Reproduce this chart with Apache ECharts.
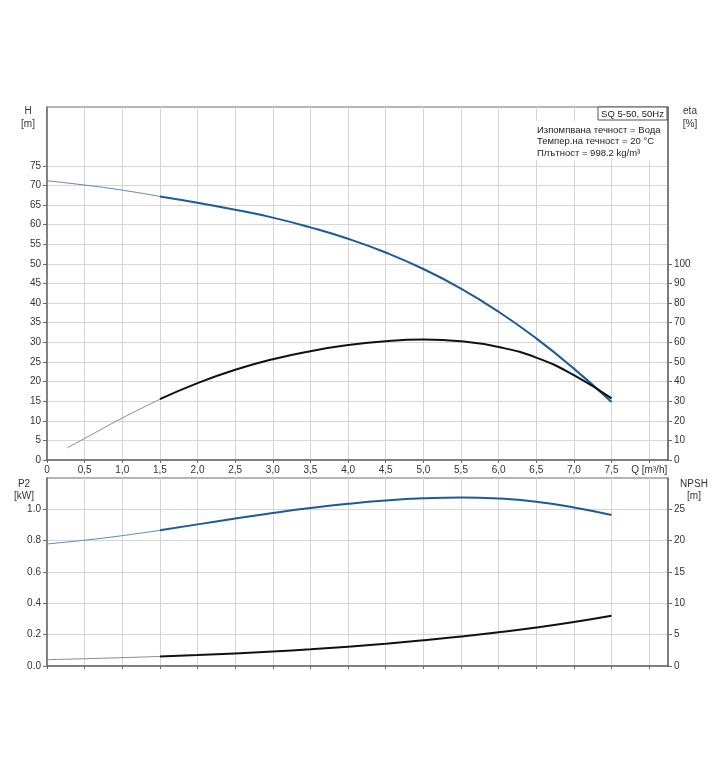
<!DOCTYPE html>
<html>
<head>
<meta charset="utf-8">
<script src="https://cdn.jsdelivr.net/npm/echarts@6/dist/echarts.min.js"></script>
<style>
html,body{margin:0;padding:0;background:#fff;}
#chart{width:720px;height:780px;}
</style>
</head>
<body>
<div id="chart"></div>
<script>
// Flow Q [m³/h]
const Q = [0, 0.5, 1.0, 1.5, 2.0, 2.5, 3.0, 3.5, 4.0, 4.5, 5.0, 5.5, 6.0, 6.5, 7.0, 7.5];
// Head H [m]
const H = [71.2, 70.1, 68.8, 67.2, 65.6, 63.8, 61.8, 59.3, 56.4, 52.9, 48.7, 43.7, 37.8, 31.0, 23.3, 14.8];
// Efficiency eta [%]
const ETA_Q = [0.27, 0.5, 1.0, 1.5, 2.0, 2.5, 3.0, 3.5, 4.0, 4.5, 5.0, 5.5, 6.0, 6.5, 7.0, 7.5];
const ETA = [6.2, 11.0, 21.4, 31.0, 39.2, 46.0, 51.4, 55.5, 58.6, 60.6, 61.4, 60.5, 57.6, 52.2, 43.3, 31.4];
// Power P2 [kW]
const P2 = [0.779, 0.803, 0.832, 0.866, 0.904, 0.941, 0.976, 1.008, 1.035, 1.056, 1.070, 1.076, 1.069, 1.048, 1.012, 0.964];
// NPSH [m]
const NPSH = [1.0, 1.16, 1.33, 1.52, 1.74, 2.0, 2.31, 2.67, 3.09, 3.56, 4.09, 4.69, 5.37, 6.14, 7.02, 8.02];
// Tick / label values
const X_TICKS = [0, 0.5, 1.0, 1.5, 2.0, 2.5, 3.0, 3.5, 4.0, 4.5, 5.0, 5.5, 6.0, 6.5, 7.0, 7.5, 8.0];
const H_TICKS = [0, 5, 10, 15, 20, 25, 30, 35, 40, 45, 50, 55, 60, 65, 70, 75];
const ETA_TICKS = [0, 10, 20, 30, 40, 50, 60, 70, 80, 90, 100];
const P2_TICKS = [0, 0.2, 0.4, 0.6, 0.8, 1.0];
const NPSH_TICKS = [0, 5, 10, 15, 20, 25];
const X_AXIS_TITLE = 'Q [m³/h]';
const INFO_TITLE = 'SQ 5-50, 50Hz';
const INFO_LINES = ['Изпомпвана течност = Вода', 'Темпер.на течност = 20 °C', 'Плътност = 998.2 kg/m³'];

const SPLIT = 1.5;
function pairs(xs, ys, thick) {
  const out = [];
  for (let i = 0; i < xs.length; i++) {
    if (thick ? xs[i] >= SPLIT : xs[i] <= SPLIT) out.push([xs[i], ys[i]]);
  }
  return out;
}

const FONT = 'Liberation Sans, Arial, sans-serif';
const LBL = {fontSize: 10, color: '#333', fontFamily: FONT};
const AXIS_LINE = {lineStyle: {color: '#6a6a6a', width: 1.5}};
const SPLIT_LINE = {show: true, lineStyle: {color: '#d6d6d6', width: 1}};
const TICK = (vals, len) => ({show: true, length: len, customValues: vals, lineStyle: {color: '#6a6a6a'}});

function near(v, arr) { return arr.some(a => Math.abs(a - v) < 1e-6); }

function xFmt(v) {
  if (Math.abs(v - 8) < 1e-6) return X_AXIS_TITLE;
  if (v === 0) return '0';
  return v.toFixed(1).replace('.', ',');
}

const chart = echarts.init(document.getElementById('chart'), null, {renderer: 'canvas'});

const blueThick = '#1d5a99', blueThin = '#5d88b8', blackThick = '#111111', blackThin = '#8a8a8a';

function line(name, data, xi, yi, color, width) {
  return {
    name, type: 'line', data, xAxisIndex: xi, yAxisIndex: yi,
    smooth: 0.5, symbol: 'none', lineStyle: {color, width}, itemStyle: {color},
    z: width > 1.5 ? 4 : 3
  };
}

const option = {
  animation: false,
  backgroundColor: '#fff',
  grid: [
    {left: 47, top: 107, width: 621, height: 353, show: true, borderColor: '#6a6a6a', borderWidth: 1},
    {left: 47, top: 478, width: 621, height: 188, show: true, borderColor: '#6a6a6a', borderWidth: 1}
  ],
  xAxis: [
    {type: 'value', gridIndex: 0, min: 0, max: 8.25, interval: 0.5,
     axisLine: AXIS_LINE, axisTick: TICK(X_TICKS, 3),
     axisLabel: Object.assign({customValues: X_TICKS, formatter: xFmt, margin: 5}, LBL),
     splitLine: SPLIT_LINE},
    {type: 'value', gridIndex: 1, min: 0, max: 8.25, interval: 0.5,
     axisLine: AXIS_LINE, axisTick: TICK(X_TICKS, 3),
     axisLabel: {show: false},
     splitLine: SPLIT_LINE}
  ],
  yAxis: [
    {type: 'value', gridIndex: 0, min: 0, max: 90, interval: 5, position: 'left',
     axisLine: Object.assign({show: true}, AXIS_LINE),
     axisTick: TICK(H_TICKS, 4),
     axisLabel: Object.assign({customValues: H_TICKS, formatter: v => near(v, H_TICKS) ? String(v) : '', margin: 6}, LBL),
     splitLine: SPLIT_LINE},
    {type: 'value', gridIndex: 0, min: 0, max: 180, interval: 10, position: 'right',
     axisLine: Object.assign({show: true}, AXIS_LINE),
     axisTick: TICK(ETA_TICKS, 4),
     axisLabel: Object.assign({customValues: ETA_TICKS, formatter: v => near(v, ETA_TICKS) ? String(v) : '', margin: 6}, LBL),
     splitLine: {show: false}},
    {type: 'value', gridIndex: 1, min: 0, max: 1.2, interval: 0.2, position: 'left',
     axisLine: Object.assign({show: true}, AXIS_LINE),
     axisTick: TICK(P2_TICKS, 4),
     axisLabel: Object.assign({customValues: P2_TICKS, formatter: v => near(v, P2_TICKS) ? v.toFixed(1) : '', margin: 6}, LBL),
     splitLine: SPLIT_LINE},
    {type: 'value', gridIndex: 1, min: 0, max: 30, interval: 5, position: 'right',
     axisLine: Object.assign({show: true}, AXIS_LINE),
     axisTick: TICK(NPSH_TICKS, 4),
     axisLabel: Object.assign({customValues: NPSH_TICKS, formatter: v => near(v, NPSH_TICKS) ? String(v) : '', margin: 6}, LBL),
     splitLine: {show: false}}
  ],
  series: [
    line('H thin', pairs(Q, H, false), 0, 0, blueThin, 1),
    line('H', pairs(Q, H, true), 0, 0, blueThick, 2),
    line('eta thin', pairs(ETA_Q, ETA, false), 0, 1, blackThin, 1),
    line('eta', pairs(ETA_Q, ETA, true), 0, 1, blackThick, 2),
    line('P2 thin', pairs(Q, P2, false), 1, 2, blueThin, 1),
    line('P2', pairs(Q, P2, true), 1, 2, blueThick, 2),
    line('NPSH thin', pairs(Q, NPSH, false), 1, 3, blackThin, 1),
    line('NPSH', pairs(Q, NPSH, true), 1, 3, blackThick, 2)
  ],
  graphic: [
    {type: 'rect', z: 50, shape: {x: 534, y: 121, width: 133, height: 39}, style: {fill: '#fff'}},
    {type: 'rect', z: 51, shape: {x: 598, y: 107, width: 69, height: 13}, style: {fill: '#fff', stroke: '#555', lineWidth: 1}},
    {type: 'text', z: 52, x: 632.5, y: 114, style: {text: INFO_TITLE, font: '9.5px ' + FONT, fill: '#222', textAlign: 'center', textVerticalAlign: 'middle'}},
    {type: 'text', z: 52, x: 537, y: 124.5, style: {text: INFO_LINES.join('\n'), font: '9.5px ' + FONT, fill: '#222', lineHeight: 11.5, textAlign: 'left', textVerticalAlign: 'top'}},
    {type: 'text', z: 52, x: 28, y: 105, style: {text: 'H\n[m]', font: '10px ' + FONT, fill: '#333', lineHeight: 13, textAlign: 'center', textVerticalAlign: 'top'}},
    {type: 'text', z: 52, x: 690, y: 105, style: {text: 'eta\n[%]', font: '10px ' + FONT, fill: '#333', lineHeight: 13, textAlign: 'center', textVerticalAlign: 'top'}},
    {type: 'text', z: 52, x: 24, y: 478, style: {text: 'P2\n[kW]', font: '10px ' + FONT, fill: '#333', lineHeight: 12, textAlign: 'center', textVerticalAlign: 'top'}},
    {type: 'text', z: 52, x: 694, y: 478, style: {text: 'NPSH\n[m]', font: '10px ' + FONT, fill: '#333', lineHeight: 12, textAlign: 'center', textVerticalAlign: 'top'}}
  ]
};
chart.setOption(option);
</script>
</body>
</html>
